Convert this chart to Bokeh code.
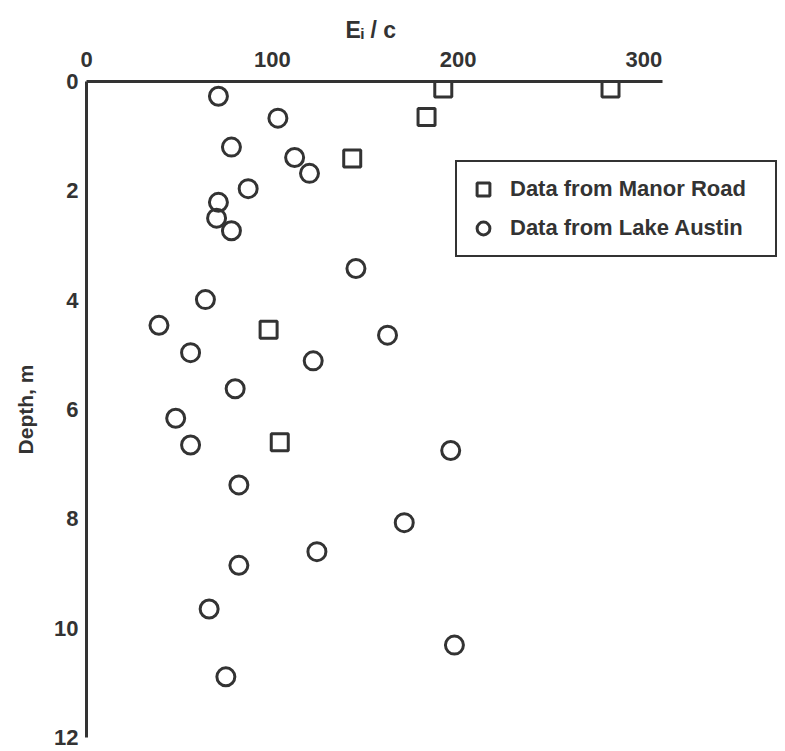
from bokeh.plotting import figure
from bokeh.models import Range1d, Legend, LegendItem, FixedTicker
from bokeh.embed import file_html
from bokeh.resources import INLINE

# Data from Manor Road (squares)
manor_ratio = [192, 282, 183, 143, 98, 104]
manor_depth = [0.13, 0.13, 0.65, 1.41, 4.54, 6.60]

# Data from Lake Austin (circles)
austin_ratio = [71, 103, 78, 112, 120, 87, 71, 70, 78, 145, 64, 39, 162, 56, 122,
                80, 48, 56, 196, 82, 171, 124, 82, 66, 198, 75]
austin_depth = [0.27, 0.67, 1.20, 1.39, 1.68, 1.96, 2.21, 2.50, 2.73, 3.42, 3.99, 4.46,
                4.64, 4.96, 5.11, 5.62, 6.16, 6.65, 6.75, 7.38, 8.07, 8.60, 8.85, 9.65,
                10.31, 10.89]

x_ticks = [0, 100, 200, 300]
y_ticks = [0, 2, 4, 6, 8, 10, 12]

INK = "#333333"
FONT = "Liberation Sans"

p = figure(width=778, height=750, output_backend="svg", toolbar_location=None,
           x_range=Range1d(0, 372.4), y_range=Range1d(12, 0),
           x_axis_location="above", min_border_left=86, min_border_top=81,
           min_border_bottom=13, min_border_right=0)
p.outline_line_color = None
p.xgrid.visible = False
p.ygrid.visible = False
p.background_fill_color = "white"
p.border_fill_color = "white"

for ax, ticks, standoff in ((p.xaxis[0], x_ticks, 15), (p.yaxis[0], y_ticks, 8)):
    ax.ticker = FixedTicker(ticks=ticks)
    ax.axis_line_color = INK
    ax.axis_line_width = 3
    ax.major_tick_line_color = None
    ax.major_tick_out = 0
    ax.major_tick_in = 0
    ax.minor_tick_line_color = None
    ax.major_label_text_font = FONT
    ax.major_label_text_font_style = "bold"
    ax.major_label_text_font_size = "22px"
    ax.major_label_text_color = INK
    ax.major_label_standoff = standoff
    ax.axis_label_text_font = FONT
    ax.axis_label_text_font_style = "bold"
    ax.axis_label_text_color = INK

p.xaxis.bounds = (0, 310)
p.yaxis.bounds = (0, 12)
p.yaxis.axis_label = "Depth, m"
p.yaxis.axis_label_text_font_size = "21px"
p.yaxis.axis_label_standoff = 14

# x-axis title placed over the bounded axis
p.title.text = "E\u1d62 / c"
p.title.align = "left"
p.title.offset = 259
p.title.text_font = FONT
p.title.text_font_style = "bold"
p.title.text_font_size = "23px"
p.title.text_color = INK
p.title.standoff = 12

r_sq = p.scatter(manor_ratio, manor_depth, marker="square", size=17,
                 line_color=INK, line_width=3, fill_color=None)
r_ci = p.scatter(austin_ratio, austin_depth, marker="circle", size=18,
                 line_color=INK, line_width=3, fill_color=None)

legend = Legend(items=[LegendItem(label="Data from Manor Road", renderers=[r_sq]),
                       LegendItem(label="Data from Lake Austin", renderers=[r_ci])],
                location=(369, 480))
legend.border_line_color = INK
legend.border_line_alpha = 1
legend.border_line_width = 2
legend.background_fill_color = "white"
legend.background_fill_alpha = 1
legend.padding = 10
legend.margin = 0
legend.spacing = 5
legend.glyph_width = 32
legend.glyph_height = 34
legend.label_height = 34
legend.label_width = 255
legend.label_standoff = 11
legend.label_text_font = FONT
legend.label_text_font_style = "bold"
legend.label_text_font_size = "22px"
legend.label_text_color = INK
p.add_layout(legend, "center")

open("out.html", "w").write(file_html(p, INLINE))
